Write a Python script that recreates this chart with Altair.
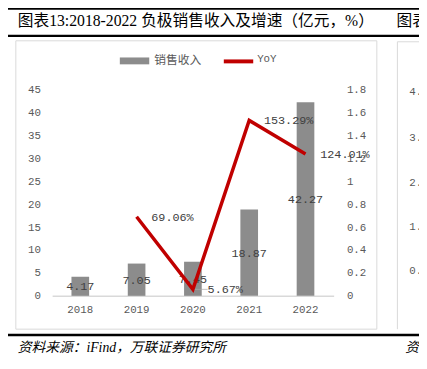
import altair as alt
import pandas as pd

years = ["2018", "2019", "2020", "2021", "2022"]
revenue = [4.17, 7.05, 7.45, 18.87, 42.27]
yoy = [None, 0.6906, 0.0567, 1.5329, 1.2401]
yoy_labels = ["", "69.06%", "5.67%", "153.29%", "124.01%"]
left_ticks = [0, 5, 10, 15, 20, 25, 30, 35, 40, 45]
right_ticks = [0, 0.2, 0.4, 0.6, 0.8, 1, 1.2, 1.4, 1.6, 1.8]
neighbor_ticks = ["4.0", "3.0", "2.0", "1.0", "0.0"]

title_text = "图表13:2018-2022 负极销售收入及增速（亿元，%）"
source_text = "资料来源：iFind，万联证券研究所"

MONO = "Liberation Mono"
SERIF = "Liberation Serif, Noto Sans CJK SC"
BAR_C = "#8c8c8c"
LINE_C = "#c00000"

df = pd.DataFrame({"year": years, "revenue": revenue, "yoy": yoy, "yoy_label": yoy_labels})
df["rev_label"] = [f"{v:.2f}" for v in revenue]

x_enc = alt.X(
    "year:N",
    sort=years,
    scale=alt.Scale(paddingInner=0, paddingOuter=0),
    axis=alt.Axis(labelAngle=0, title=None, ticks=False, domainColor="#d9d9d9",
                  domainWidth=1.5, labelPadding=8, labelFont=MONO, labelFontSize=11,
                  labelColor="#595959"),
)
yl_scale = alt.Scale(domain=[0, 45], nice=False)
yr_scale = alt.Scale(domain=[0, 1.8], nice=False)

base = alt.Chart(df)

bars = base.mark_bar(color=BAR_C, size=18).encode(
    x=x_enc,
    y=alt.Y("revenue:Q", scale=yl_scale,
            axis=alt.Axis(values=left_ticks, title=None, grid=False, domain=False, ticks=False,
                          labelPadding=12, labelFont=MONO, labelFontSize=11, labelColor="#595959")),
)
bar_text = base.transform_calculate(mid="datum.revenue/2").mark_text(
    font=MONO, fontSize=12, color="#404040", baseline="middle"
).encode(
    x=alt.X("year:N", sort=years),
    y=alt.Y("mid:Q", scale=yl_scale, axis=None),
    text="rev_label:N",
)

line_df = base.transform_filter("datum.yoy != null")
line = line_df.mark_line(color=LINE_C, strokeWidth=3.5).encode(
    x=alt.X("year:N", sort=years),
    y=alt.Y("yoy:Q", scale=yr_scale,
            axis=alt.Axis(orient="right", values=right_ticks, format="~g", title=None, grid=False,
                          domain=False, ticks=False, labelPadding=13, labelFont=MONO,
                          labelFontSize=11, labelColor="#595959")),
)
line_text = line_df.mark_text(
    font=MONO, fontSize=12, color="#404040", align="left", baseline="middle", dx=15
).encode(
    x=alt.X("year:N", sort=years),
    y=alt.Y("yoy:Q", scale=yr_scale, axis=None),
    text="yoy_label:N",
)
leader = base.transform_filter("datum.year == '2020'").mark_tick(
    color="#a6a6a6", thickness=1, size=13, xOffset=8.5, orient="horizontal"
).encode(
    x=alt.X("year:N", sort=years),
    y=alt.Y("yoy:Q", scale=yr_scale, axis=None),
)

one = pd.DataFrame({"k": [0]})

def rule(x1, x2, y1, y2, color, w):
    return alt.Chart(one).mark_rule(color=color, strokeWidth=w).encode(
        x=alt.value(x1), x2=alt.value(x2), y=alt.value(y1), y2=alt.value(y2))

def label(text, x, y, size, font, color="#000000", italic=False, align="left"):
    return alt.Chart(pd.DataFrame({"t": [text]})).mark_text(
        font=font, fontSize=size, color=color, align=align, baseline="middle",
        fontStyle="italic" if italic else "normal"
    ).encode(x=alt.value(x), y=alt.value(y), text="t:N")

box = alt.Chart(one).mark_rect(fillOpacity=0, stroke="#d9d9d9", strokeWidth=1).encode(
    x=alt.value(-37), x2=alt.value(331), y=alt.value(-50), y2=alt.value(244))

deco = [
    box,
    rule(352, 380, -49, -49, "#d9d9d9", 1),
    rule(352, 352, -49, 244, "#d9d9d9", 1),
    rule(-45, 380, -83, -83, "#000000", 2.5),
    rule(-45, 380, -55, -55, "#000000", 2.5),
    rule(-45, 380, 250, 250, "#000000", 2.5),
    label(title_text, -35, -70, 16, SERIF),
    label("图表", 351, -70, 16, SERIF),
    label(source_text, -35, 263, 14, SERIF, italic=True),
    label("资", 360, 263, 14, SERIF, italic=True),
    # legend
    alt.Chart(one).mark_rect(color=BAR_C).encode(
        x=alt.value(69), x2=alt.value(99), y=alt.value(-33), y2=alt.value(-26)),
    label("销售收入", 104, -30, 12, "Noto Sans CJK SC", "#595959"),
    rule(175, 205, -29, -29, LINE_C, 4),
    label("YoY", 209, -31, 11, MONO, "#595959"),
]
for i, t in enumerate(neighbor_ticks):
    deco.append(label(t, 364, [2, 49, 95, 140, 185][i], 11, MONO, "#595959"))

chart = alt.layer(
    *deco, bars, bar_text, line, line_text, leader
).resolve_scale(y="independent").properties(
    width=287, height=210,
    autosize=alt.AutoSizeParams(type="none"),
    padding={"left": 45, "top": 80, "right": 87, "bottom": 63},
    background="white",
).configure_view(stroke=None)

chart.save("out.html", embed_options={"renderer": "svg", "actions": False})
